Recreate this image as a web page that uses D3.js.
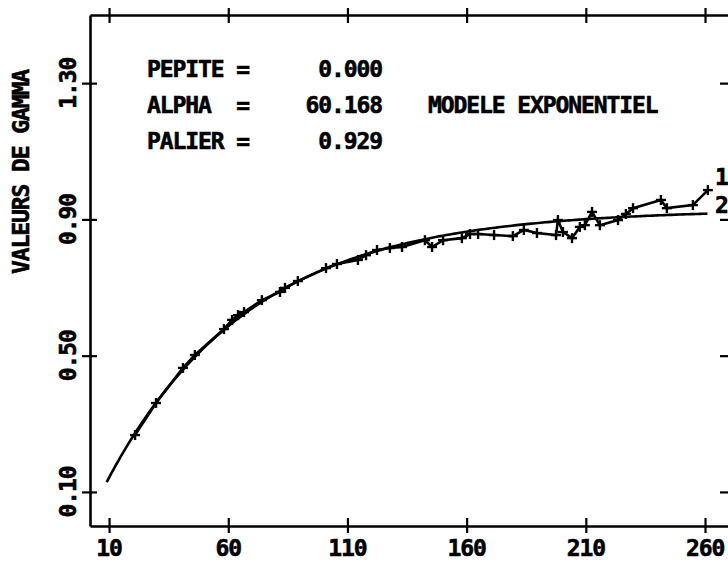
<!DOCTYPE html>
<html>
<head>
<meta charset="utf-8">
<script src="https://cdn.jsdelivr.net/npm/d3@7"></script>
<style>
  html, body { margin: 0; padding: 0; background: #fff; }
  svg { display: block; }
  text { font-family: "DejaVu Sans Mono", "Liberation Mono", monospace; font-weight: bold; fill: #000; stroke: #000; stroke-width: 0.6px; }
</style>
</head>
<body>
<svg id="chart" width="728" height="563"></svg>
<script>
// Experimental variogram: lag distances and gamma values
const lags = [20.9, 29.7, 41.0, 46.0, 58.2, 61.6, 64.1, 66.6, 74.1, 81.7, 83.8, 89.2,
  101.0, 105.6, 114.4, 117.8, 122.4, 127.8, 132.9, 142.5, 145.5, 150.1, 158.0, 161.4,
  164.8, 171.5, 179.4, 184.0, 189.5, 197.5, 198.3, 200.4, 204.2, 207.5, 209.6, 212.6,
  215.9, 223.5, 226.8, 229.8, 241.5, 244.0, 254.9, 261.2];
const gammas = [0.267, 0.361, 0.464, 0.502, 0.578, 0.605, 0.619, 0.628, 0.663, 0.687, 0.699, 0.719,
  0.757, 0.769, 0.781, 0.795, 0.810, 0.816, 0.819, 0.839, 0.819, 0.839, 0.845, 0.857,
  0.857, 0.854, 0.851, 0.869, 0.860, 0.854, 0.898, 0.863, 0.845, 0.878, 0.883, 0.922,
  0.883, 0.898, 0.916, 0.933, 0.957, 0.933, 0.942, 0.986];

// Fitted exponential model parameters
const pepite = 0.000;
const alpha = 60.168;
const palier = 0.929;
const modelRange = [9, 261];

// Axis ticks
const xTicks = [10, 60, 110, 160, 210, 260];
const yTicks = [0.10, 0.50, 0.90, 1.30];
const xTickLabels = ["10", "60", "110", "160", "210", "260"];
const yTickLabels = ["0.10", "0.50", "0.90", "1.30"];
const curveLabels = ["1", "2"];

const svg = d3.select("#chart");
const plotL = 90, plotR = 731, plotT = 15, plotB = 526;

const x = d3.scaleLinear().domain([2, 270.9]).range([plotL, plotR]);
const y = d3.scaleLinear().domain([0, 1.5]).range([plotB, plotT]);

const fontSize = 23;
const ls = "-1.1px";

// Frame + ticks
function styleAxis(g) {
  g.select(".domain").attr("stroke", "#000").attr("stroke-width", 2.6);
  g.selectAll(".tick line").attr("stroke", "#000").attr("stroke-width", 2.2);
  g.selectAll(".tick text").remove();
}

const gb = svg.append("g").attr("transform", `translate(0,${plotB})`)
  .call(d3.axisBottom(x).tickValues(xTicks).tickSize(7).tickSizeOuter(0));
styleAxis(gb);
gb.selectAll(".tick line").attr("y1", -8).attr("y2", 7);

const gt = svg.append("g").attr("transform", `translate(0,${plotT})`)
  .call(d3.axisTop(x).tickValues(xTicks).tickSize(7).tickSizeOuter(0));
styleAxis(gt);
gt.selectAll(".tick line").attr("y1", 8).attr("y2", -7);

const gl = svg.append("g").attr("transform", `translate(${plotL},0)`)
  .call(d3.axisLeft(y).tickValues(yTicks).tickSize(8).tickSizeOuter(0));
styleAxis(gl);
gl.selectAll(".tick line").attr("x1", 7).attr("x2", -8);

const gr = svg.append("g").attr("transform", `translate(${plotR},0)`)
  .call(d3.axisRight(y).tickValues(yTicks).tickSize(0).tickSizeOuter(0));
styleAxis(gr);
gr.selectAll(".tick line").attr("x1", -11).attr("x2", 0);

// Tick labels
svg.append("g").selectAll("text").data(xTicks).join("text")
  .attr("x", d => x(d)).attr("y", 556)
  .attr("text-anchor", "middle")
  .attr("font-size", fontSize).attr("letter-spacing", ls)
  .text((d, i) => xTickLabels[i]);

svg.append("g").selectAll("text").data(yTicks).join("text")
  .attr("transform", d => `translate(76,${y(d)}) rotate(-90)`)
  .attr("text-anchor", "middle")
  .attr("font-size", fontSize).attr("letter-spacing", ls)
  .text((d, i) => yTickLabels[i]);

// Axis title
svg.append("text")
  .attr("transform", "translate(29,172) rotate(-90)")
  .attr("text-anchor", "middle")
  .attr("font-size", fontSize).attr("letter-spacing", ls)
  .text("VALEURS DE GAMMA");

// Model parameters
const params = [
  ["PEPITE =", pepite.toFixed(3), 77],
  ["ALPHA  =", alpha.toFixed(3), 113],
  ["PALIER =", palier.toFixed(3), 149]
];
const gp = svg.append("g");
params.forEach(p => {
  gp.append("text").attr("x", 147).attr("y", p[2])
    .attr("font-size", fontSize).attr("letter-spacing", ls)
    .style("white-space", "pre")
    .text(p[0]);
  gp.append("text").attr("x", 382).attr("y", p[2]).attr("text-anchor", "end")
    .attr("font-size", fontSize).attr("letter-spacing", ls)
    .text(p[1]);
});
gp.append("text").attr("x", 428).attr("y", 113)
  .attr("font-size", fontSize).attr("letter-spacing", ls)
  .text("MODELE EXPONENTIEL");

// Exponential model curve from the stated parameters
const modelH = d3.range(modelRange[0], modelRange[1] + 0.5, 1);
const model = h => pepite + (palier - pepite) * (1 - Math.exp(-h / alpha));
svg.append("path")
  .datum(modelH)
  .attr("fill", "none").attr("stroke", "#000").attr("stroke-width", 2.6)
  .attr("d", d3.line().x(h => x(h)).y(h => y(model(h))));

// Experimental variogram
const pts = lags.map((h, i) => [h, gammas[i]]);
svg.append("path")
  .datum(pts)
  .attr("fill", "none").attr("stroke", "#000").attr("stroke-width", 2.6)
  .attr("d", d3.line().x(d => x(d[0])).y(d => y(d[1])));

const mk = svg.append("g").attr("stroke", "#000").attr("stroke-width", 2.4);
pts.forEach(d => {
  const cx = x(d[0]), cy = y(d[1]);
  mk.append("line").attr("x1", cx - 5).attr("x2", cx + 5).attr("y1", cy).attr("y2", cy);
  mk.append("line").attr("x1", cx).attr("x2", cx).attr("y1", cy - 5).attr("y2", cy + 5);
});

// Curve labels
svg.append("g").selectAll("text").data(curveLabels).join("text")
  .attr("x", 715).attr("y", (d, i) => 185 + i * 28)
  .attr("font-size", fontSize).attr("letter-spacing", ls)
  .text(d => d);
</script>
</body>
</html>
